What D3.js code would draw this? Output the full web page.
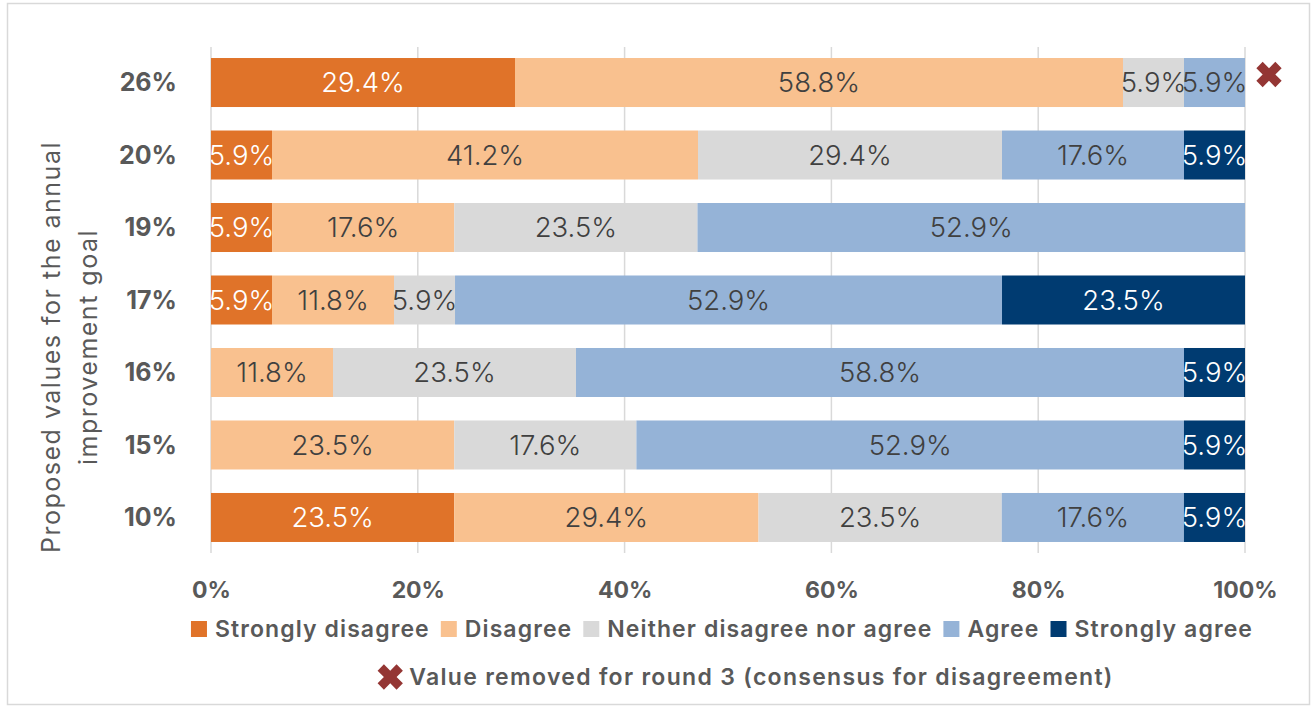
<!DOCTYPE html>
<html><head><meta charset="utf-8">
<script src="https://cdn.jsdelivr.net/npm/d3@7"></script>
<style>body{margin:0;background:#fff}svg{display:block}</style>
</head><body><svg id="c" width="1313" height="708"></svg>
<script>
const categories = ["26%","20%","19%","17%","16%","15%","10%"];
const seriesNames = ["Strongly disagree","Disagree","Neither disagree nor agree","Agree","Strongly agree"];
const stronglyDisagree = [29.4,5.9,5.9,5.9,0,0,23.5];
const disagree = [58.8,41.2,17.6,11.8,11.8,23.5,29.4];
const neither = [5.9,29.4,23.5,5.9,23.5,17.6,23.5];
const agree = [5.9,17.6,52.9,52.9,58.8,52.9,17.6];
const stronglyAgree = [0,5.9,0,23.5,5.9,5.9,5.9];
const xTicks = [0,0.2,0.4,0.6,0.8,1];
const removed = ["26%"];
const yTitle = ["Proposed values for the annual","improvement goal"];
const removedNote = "Value removed for round 3 (consensus for disagreement)";

const colors = ["#E07329","#F9C18F","#D9D9D9","#95B3D7","#003B71"];
const labelColors = ["#ffffff","#404040","#404040","#404040","#ffffff"];
const FONT = "Inter, 'Open Sans', sans-serif";

const seriesValues = [stronglyDisagree, disagree, neither, agree, stronglyAgree];
const rows = categories.map((c,i)=>{const o={cat:c}; seriesNames.forEach((s,k)=>o[s]=seriesValues[k][i]); return o;});
const stacked = d3.stack().keys(seriesNames).offset(d3.stackOffsetExpand)(rows);

const svg = d3.select("#c");
svg.append("rect").attr("x",7.5).attr("y",3.5).attr("width",1302).attr("height",701)
  .attr("fill","#fff").attr("stroke","#d9d9d9").attr("stroke-width",1.5);

const x = d3.scaleLinear().domain([0,1]).range([211,1245]);
const y = d3.scaleBand().domain(categories).range([47,553]).paddingInner(0.324).paddingOuter(0.152);

// gridlines
const g = svg.append("g");
g.selectAll("line.grid").data(xTicks).join("line")
  .attr("x1",d=>x(d)).attr("x2",d=>x(d)).attr("y1",47).attr("y2",553)
  .attr("stroke","#d9d9d9").attr("stroke-width",1.5);

// x tick labels
const xAxis = d3.axisBottom(x).tickValues(xTicks).tickFormat(d3.format(".0%")).tickSize(0).tickPadding(0);
const xa = svg.append("g").attr("transform","translate(0,590)").call(xAxis);
xa.select(".domain").remove();
xa.selectAll("text").attr("font-family",FONT).attr("font-size",23).attr("font-weight",700)
  .attr("fill","#595959").attr("dy","0.35em");

// y tick labels
const yAxis = d3.axisLeft(y).tickSize(0).tickPadding(0);
const ya = svg.append("g").attr("transform","translate(177,0)").call(yAxis);
ya.select(".domain").remove();
ya.selectAll("text").attr("font-family",FONT).attr("font-size",25).attr("font-weight",700)
  .attr("fill","#595959").attr("dy","0.35em");

// bars
svg.append("defs").append("clipPath").attr("id","plotclip").append("rect")
  .attr("x",x(0)-1).attr("y",40).attr("width",x(1)-x(0)+2).attr("height",520);

const layers = svg.append("g").selectAll("g").data(stacked).join("g").attr("fill",(d,i)=>colors[i]);
layers.selectAll("rect").data(d=>d.filter(p=>p[1]-p[0]>0)).join("rect")
  .attr("x",d=>x(d[0])).attr("width",d=>x(d[1])-x(d[0]))
  .attr("y",d=>y(d.data.cat)).attr("height",y.bandwidth());

const lbl = svg.append("g").attr("clip-path","url(#plotclip)");
stacked.forEach((layer,k)=>{
  lbl.selectAll(null).data(layer.filter(p=>p[1]-p[0]>0)).join("text")
    .attr("x",d=>x((d[0]+d[1])/2)).attr("y",d=>y(d.data.cat)+y.bandwidth()/2)
    .attr("text-anchor","middle").attr("dy","0.36em")
    .attr("font-family",FONT).attr("font-size",27.5).attr("font-weight",300)
    .attr("fill",labelColors[k])
    .text(d=>d.data[layer.key].toFixed(1)+"%");
});

// removed markers
const cross = d3.symbol().type(d3.symbolCross).size(400);
svg.selectAll("path.rm").data(removed).join("path")
  .attr("d",cross).attr("fill","#943634")
  .attr("transform",d=>`translate(${x(1)+24},${y(d)+y.bandwidth()/2-8}) rotate(45)`);

// y title
const yt = svg.append("text").attr("transform","translate(0,347) rotate(-90)")
  .attr("text-anchor","middle").attr("font-family",FONT).attr("font-size",25)
  .attr("letter-spacing",1.5)
  .attr("font-weight",400).attr("fill","#595959");
yTitle.forEach((t,i)=>yt.append("tspan").attr("x",0).attr("y",60+i*37).text(t));

// legend
const leg = svg.append("g");
const items = leg.selectAll("g").data(seriesNames).join("g");
items.append("rect").attr("width",16).attr("height",16).attr("y",-8).attr("fill",(d,i)=>colors[i]);
items.append("text").attr("x",24).attr("dy","0.36em").attr("font-family",FONT)
  .attr("font-size",23).attr("font-weight",600).attr("letter-spacing",1.1)
  .attr("fill","#595959").text(d=>d);
let cx = 0;
const offs = [];
items.each(function(){const w=d3.select(this).select("text").node().getComputedTextLength(); offs.push(cx); cx += 24+w+11;});
items.attr("transform",(d,i)=>`translate(${offs[i]},0)`);
const totalW = cx-11;
leg.attr("transform",`translate(${722-totalW/2},629)`);

// second legend
const leg2 = svg.append("g");
leg2.append("path").attr("d",d3.symbol().type(d3.symbolCross).size(400)).attr("fill","#943634")
  .attr("transform","rotate(45)");
const t2 = leg2.append("text").attr("x",19).attr("dy","0.36em").attr("font-family",FONT)
  .attr("font-size",23).attr("font-weight",600).attr("letter-spacing",1.3)
  .attr("fill","#595959").text(removedNote);
const w2 = 13+19+t2.node().getComputedTextLength();
leg2.attr("transform",`translate(${745.5-w2/2+13},677)`);
</script></body></html>
